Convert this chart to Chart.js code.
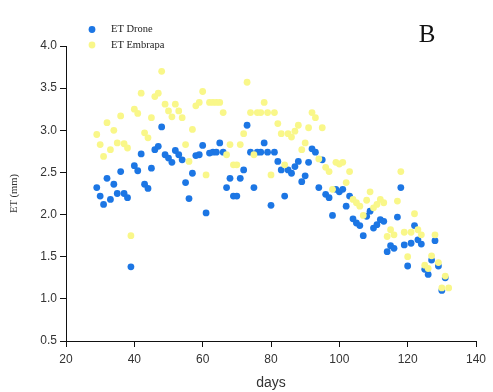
<!DOCTYPE html>
<html>
<head>
<meta charset="utf-8">
<script src="https://cdn.jsdelivr.net/npm/chart.js@4/dist/chart.umd.min.js"></script>
<style>
  body { margin: 0; background: #fff; }
</style>
</head>
<body>
<canvas id="et_canvas" width="493" height="392"></canvas>
<script>
// dias após o plantio
var days = [29, 30, 31, 32, 33, 34, 35, 36, 37, 38,
            39, 40, 41, 42, 43, 44, 45, 46, 47, 48,
            49, 50, 51, 52, 53, 54, 55, 56, 57, 58,
            59, 60, 61, 62, 63, 64, 65, 66, 67, 68,
            69, 70, 71, 72, 73, 74, 75, 76, 77, 78,
            79, 80, 81, 82, 83, 84, 85, 86, 87, 88,
            89, 90, 91, 92, 93, 94, 95, 96, 97, 98,
            99, 100, 101, 102, 103, 104, 105, 106, 107, 108,
            109, 110, 111, 112, 113, 114, 115, 116, 117, 118,
            119, 120, 121, 122, 123, 124, 125, 126, 127, 128,
            129, 130, 131, 132];

var etDrone = [2.32, 2.22, 2.12, 2.43, 2.18, 2.36, 2.25, 2.51, 2.25, 2.20,
               1.38, 2.58, 2.52, 2.72, 2.36, 2.31, 2.55, 2.77, 2.81, 3.04,
               2.71, 2.67, 2.62, 2.76, 2.71, 2.65, 2.38, 2.19, 2.49, 2.70,
               2.71, 2.82, 2.02, 2.73, 2.74, 2.74, 2.85, 2.74, 2.32, 2.43,
               2.22, 2.22, 2.43, 2.53, 3.06, 2.74, 2.32, 2.74, 2.74, 2.85,
               2.74, 2.11, 2.74, 2.63, 2.53, 2.22, 2.53, 2.49, 2.57, 2.63,
               2.39, 2.46, 2.62, 2.78, 2.74, 2.32, 2.65, 2.24, 2.20, 1.99,
               2.30, 2.27, 2.30, 2.10, 2.22, 1.95, 1.90, 1.87, 1.75, 1.98,
               2.04, 1.84, 1.88, 1.94, 1.92, 1.56, 1.63, 1.60, 1.97, 2.32,
               1.64, 1.39, 1.66, 1.87, 1.70, 1.65, 1.35, 1.29, 1.46, 1.69,
               1.39, 1.10, 1.25, null];

var etEmbrapa = [2.95, 2.83, 2.69, 3.09, 2.77, 3.00, 2.85, 3.17, 2.84, 2.79,
                 1.75, 3.25, 3.20, 3.44, 2.97, 2.91, 3.15, 3.40, 3.44, 3.70,
                 3.31, 3.23, 3.16, 3.31, 3.23, 3.15, 2.83, 2.63, 3.01, 3.29,
                 3.33, 3.46, 2.47, 3.33, 3.33, 3.33, 3.33, 3.21, 2.71, 2.83,
                 2.59, 2.59, 2.83, 2.96, 3.57, 3.21, 2.71, 3.21, 3.21, 3.33,
                 3.21, 2.47, 3.21, 3.08, 2.96, 2.59, 2.96, 2.92, 2.99, 3.06,
                 2.77, 2.85, 3.03, 3.21, 3.15, 2.66, 3.03, 2.56, 2.51, 2.30,
                 2.62, 2.60, 2.62, 2.38, 2.51, 2.18, 2.14, 2.10, 1.99, 2.17,
                 2.27, 2.08, 2.12, 2.18, 2.14, 1.74, 1.82, 1.76, 2.16, 2.51,
                 1.79, 1.50, 1.79, 2.01, 1.82, 1.76, 1.40, 1.36, 1.51, 1.76,
                 1.43, 1.13, 1.27, 1.13];

var xTicks = [20, 40, 60, 80, 100, 120, 140];
var yTicks = [0.5, 1.0, 1.5, 2.0, 2.5, 3.0, 3.5, 4.0];

var seriesNames = ['ET Drone', 'ET Embrapa'];
var panelLabel = 'B';

var blue = '#1c76e4';
var yellow = '#f9f789';

function toPoints(values) {
    var pts = [];
    for (var i = 0; i < days.length; i++) {
        if (values[i] !== null) pts.push({x: days[i], y: values[i]});
    }
    return pts;
}

// legenda e letra do painel desenhadas à mão (posição fora da área do gráfico)
var legendPlugin = {
    id: 'legendB',
    afterDraw: function (chart) {
        var ctx = chart.ctx;
        var items = [[blue, seriesNames[0], 29.5], [yellow, seriesNames[1], 45]];
        ctx.save();
        ctx.font = '10.5px "Liberation Serif", "Times New Roman", serif';
        ctx.textBaseline = 'middle';
        ctx.textAlign = 'left';
        items.forEach(function (it) {
            ctx.fillStyle = it[0];
            ctx.beginPath();
            ctx.arc(92, it[2], 3.4, 0, Math.PI * 2);
            ctx.fill();
            ctx.fillStyle = '#222';
            ctx.fillText(it[1], 111, it[2]);
        });
        ctx.font = '25px "Liberation Serif", "Times New Roman", serif';
        ctx.textAlign = 'center';
        ctx.textBaseline = 'alphabetic';
        ctx.fillStyle = '#111';
        ctx.fillText(panelLabel, 427, 42);
        ctx.restore();
    }
};

var ctx = document.getElementById('et_canvas').getContext('2d');
new Chart(ctx, {
    type: 'scatter',
    data: {
        datasets: [{
            label: seriesNames[1],
            data: toPoints(etEmbrapa),
            backgroundColor: yellow,
            borderWidth: 0,
            pointRadius: 3.4,
            pointHoverRadius: 3.4
        }, {
            label: seriesNames[0],
            data: toPoints(etDrone),
            backgroundColor: blue,
            borderWidth: 0,
            pointRadius: 3.4,
            pointHoverRadius: 3.4
        }]
    },
    options: {
        responsive: false,
        animation: false,
        layout: {
            padding: {left: 0, top: 46, right: 17, bottom: 0}
        },
        plugins: {
            legend: {display: false},
            tooltip: {enabled: false}
        },
        scales: {
            x: {
                type: 'linear',
                min: 20,
                max: 140,
                afterBuildTicks: function (scale) {
                    scale.ticks = xTicks.map(function (v) { return {value: v}; });
                },
                afterFit: function (scale) { scale.height = 51; },
                border: {display: true, color: '#111', width: 1},
                grid: {drawOnChartArea: false, drawTicks: true, tickLength: 6, color: '#111'},
                ticks: {
                    color: '#333',
                    padding: 5,
                    maxRotation: 0,
                    font: {family: '"Liberation Sans", Arial, sans-serif', size: 12}
                },
                title: {
                    display: true,
                    text: 'days',
                    color: '#333',
                    padding: {top: 4, bottom: 0},
                    font: {family: '"Liberation Sans", Arial, sans-serif', size: 14}
                }
            },
            y: {
                type: 'linear',
                min: 0.5,
                max: 4.0,
                afterBuildTicks: function (scale) {
                    scale.ticks = yTicks.map(function (v) { return {value: v}; });
                },
                afterFit: function (scale) { scale.width = 66; },
                border: {display: true, color: '#111', width: 1},
                grid: {drawOnChartArea: false, drawTicks: true, tickLength: 6, color: '#111'},
                ticks: {
                    color: '#333',
                    padding: 3,
                    callback: function (v) { return v.toFixed(1); },
                    font: {family: '"Liberation Sans", Arial, sans-serif', size: 12}
                },
                title: {
                    display: true,
                    text: 'ET (mm)',
                    color: '#333',
                    padding: {top: 8, bottom: 0},
                    font: {family: '"Liberation Serif", "Times New Roman", serif', size: 10.5}
                }
            }
        }
    },
    plugins: [legendPlugin]
});
</script>
</body>
</html>
